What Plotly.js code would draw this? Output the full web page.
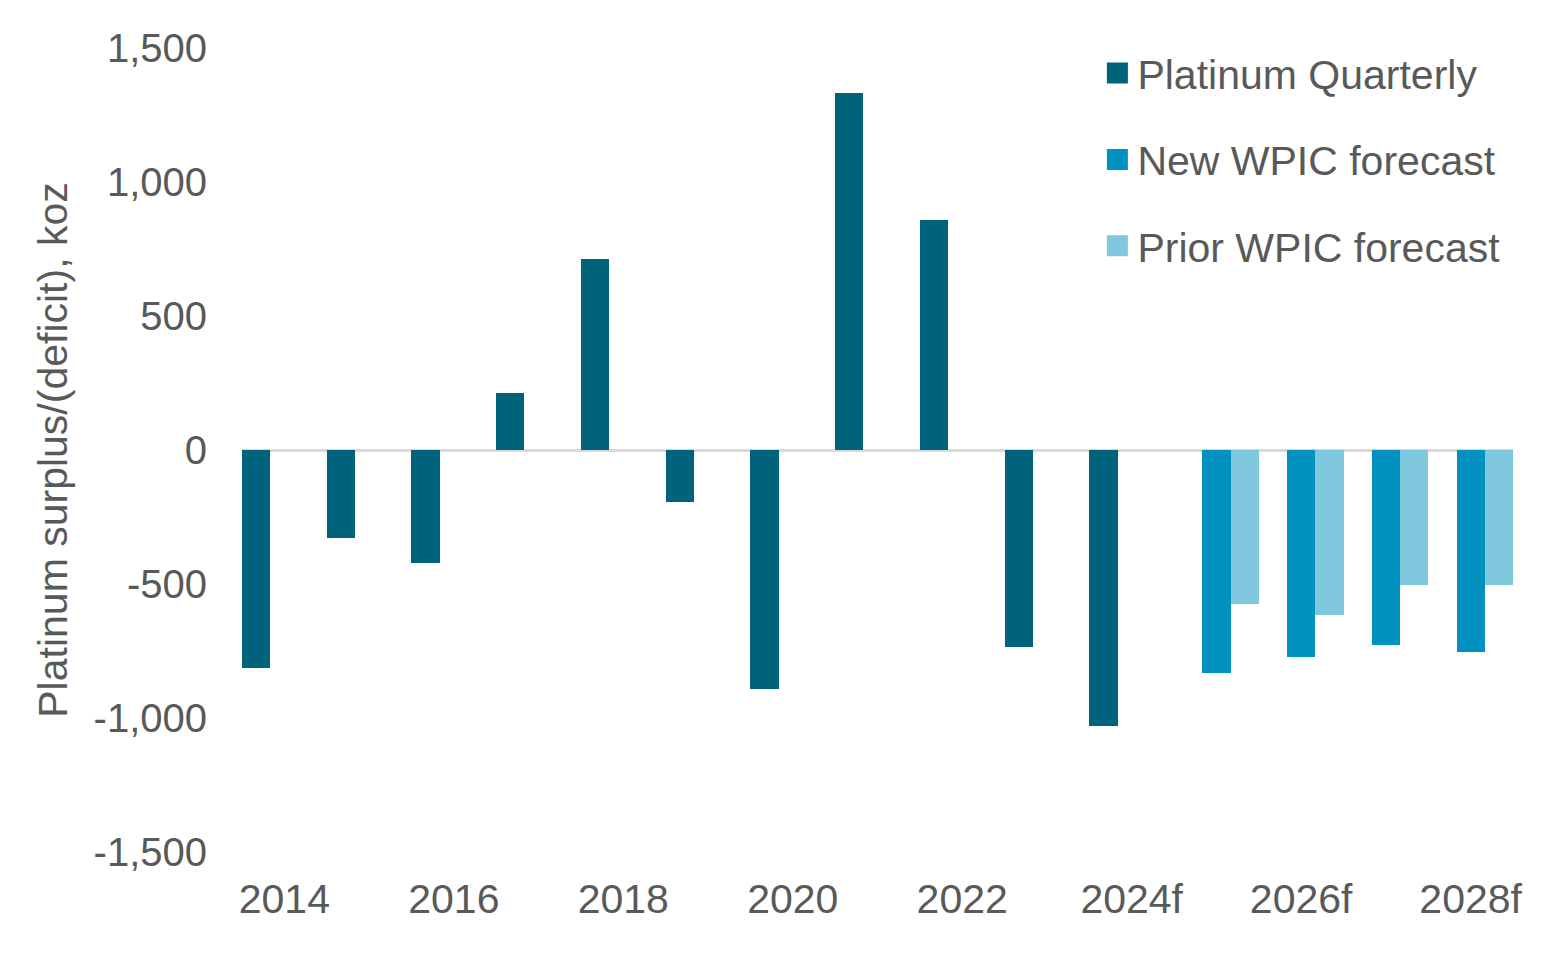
<!DOCTYPE html>
<html>
<head>
<meta charset="utf-8">
<script src="https://cdn.plot.ly/plotly-3.0.1.min.js"></script>
<style>
  html, body { margin: 0; padding: 0; background: #fff; }
  #chart { width: 1560px; height: 955px; }
</style>
</head>
<body>
<div id="chart"></div>
<script>
var years = ['2014', '2015', '2016', '2017', '2018', '2019', '2020', '2021',
	'2022', '2023', '2024f', '2025f', '2026f', '2027f', '2028f'];

var platinumQuarterly = [-815, -328, -421, 212, 713, -194, -892, 1331, 857, -735, -1030,
	null, null, null, null];
var newForecast = [null, null, null, null, null, null, null, null, null, null, null,
	-832, -772, -728, -754];
var priorForecast = [null, null, null, null, null, null, null, null, null, null, null,
	-575, -616, -502, -502];

var xTicks = ['2014', '2016', '2018', '2020', '2022', '2024f', '2026f', '2028f'];
var yTicks = [-1500, -1000, -500, 0, 500, 1000, 1500];
var yTickText = ['-1,500', '-1,000', '-500', '0', '500', '1,000', '1,500'];

var names = ['Platinum Quarterly', 'New WPIC forecast', 'Prior WPIC forecast'];
var colors = ['#00637c', '#0091be', '#80c8de'];

var series = [platinumQuarterly, newForecast, priorForecast];
var traces = [];

series.forEach(function(vals, i) {
	traces.push({
		x: years,
		y: vals,
		type: 'bar',
		name: names[i],
		showlegend: false,
		marker: { color: colors[i], line: { width: 0 } },
		hoverinfo: 'x+y'
	});
});

// legend entries with bigger square swatches
names.forEach(function(n, i) {
	traces.push({
		x: [null],
		y: [null],
		type: 'scatter',
		mode: 'markers',
		name: n,
		legendgroup: 'g' + i,
		marker: { symbol: 'square', size: 16, color: colors[i],
			line: { width: 5, color: colors[i] } }
	});
});

var font = { family: 'Liberation Sans, Arial, sans-serif', size: 41, color: '#595959' };

var layout = {
	width: 1560,
	height: 955,
	margin: { l: 242, r: 47, t: 48, b: 103 },
	paper_bgcolor: '#ffffff',
	plot_bgcolor: '#ffffff',
	font: font,
	barmode: 'group',
	bargap: 0,
	bargroupgap: 0,
	showlegend: true,
	legend: {
		x: 0.673,
		y: 1.01,
		xanchor: 'left',
		yanchor: 'top',
		bgcolor: 'rgba(0,0,0,0)',
		font: font,
		tracegroupgap: 30,
		itemwidth: 30
	},
	xaxis: {
		type: 'category',
		tickmode: 'array',
		tickvals: xTicks,
		ticktext: xTicks,
		showgrid: false,
		showline: false,
		zeroline: false,
		ticks: '',
		ticklabelstandoff: 19,
		tickfont: font,
		fixedrange: true
	},
	yaxis: {
		range: [-1500, 1500],
		tickmode: 'array',
		tickvals: yTicks,
		ticktext: yTickText,
		showgrid: false,
		showline: false,
		zeroline: true,
		zerolinecolor: '#d9d9d9',
		zerolinewidth: 3,
		ticks: '',
		ticklabelstandoff: 34,
		tickfont: { family: font.family, size: 40, color: font.color },
		title: { text: 'Platinum surplus/(deficit), koz', font: font, standoff: 13 },
		automargin: false,
		fixedrange: true
	}
};

Plotly.newPlot('chart', traces, layout, { displayModeBar: false, staticPlot: true });
</script>
</body>
</html>
